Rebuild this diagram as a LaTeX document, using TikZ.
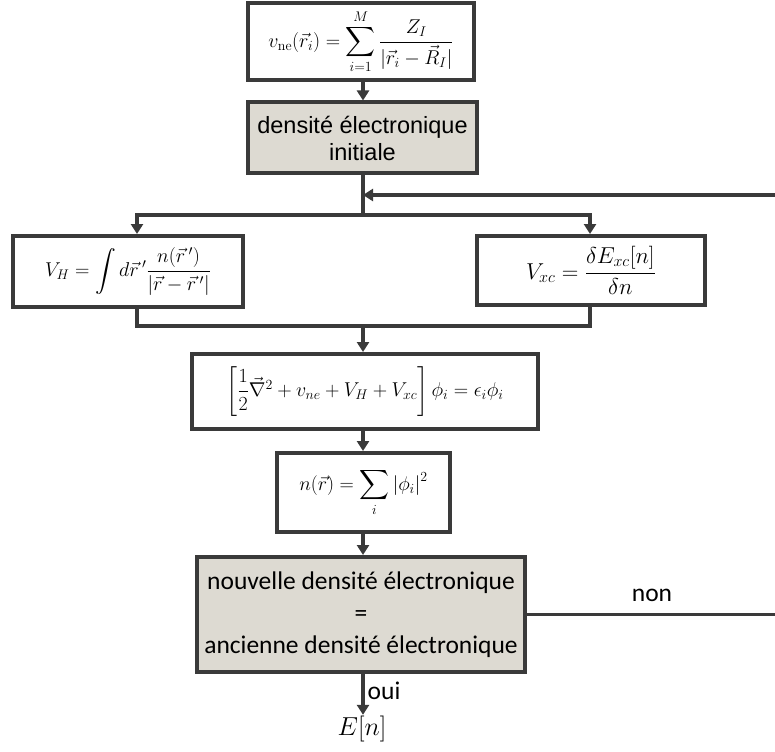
\RequirePackage{fix-cm}
\documentclass[tikz,border=0pt]{standalone}
\usepackage{amsmath}
\usepackage{fontspec}
\newfontfamily\arialf{Liberation Sans}
\newfontfamily\calibrif{Carlito}
\usetikzlibrary{arrows.meta}
\definecolor{ln}{RGB}{58,58,58}
\definecolor{gfill}{RGB}{221,218,210}
\tikzset{
  box/.style={draw=ln, line width=4pt, fill=white, inner sep=1pt, align=center},
  gbox/.style={box, fill=gfill},
  conn/.style={draw=ln, line width=3.4pt},
  arr/.style={conn, -{Triangle[length=10pt,width=12pt]}},
  mathf/.style={font=\fontsize{20}{24}\selectfont},
  calf/.style={font=\calibrif\fontsize{25.5}{30}\selectfont},
}
\begin{document}
\begin{tikzpicture}[x=1pt,y=-1pt]
\useasboundingbox (0,0) rectangle (775,751);
\node[box, minimum width=226pt, minimum height=77pt, font=\fontsize{20}{24}\selectfont] (b1) at (361,41.5)
  {$v_{\mathrm{ne}}(\vec r_i) = \displaystyle\sum_{i=1}^{M} \frac{Z_I}{|\vec r_i - \vec R_I|}$};
\node[gbox, minimum width=229pt, minimum height=71pt, font=\arialf\fontsize{23.5}{27}\selectfont] (b2) at (362.5,138)
  {densité électronique\\initiale};
\node[box, minimum width=230pt, minimum height=71pt, mathf] (vh) at (128,271.5)
  {$V_H = \displaystyle\int d\vec r\,' \frac{n(\vec r\,')}{|\vec r - \vec r\,'|}$};
\node[box, minimum width=228pt, minimum height=69pt, font=\fontsize{23}{27}\selectfont] (vxc) at (591,270.5)
  {$V_{xc} = \dfrac{\delta E_{xc}[n]}{\delta n}$};
\node[box, minimum width=346pt, minimum height=75pt, font=\fontsize{20}{24}\selectfont] (ks) at (365,391.5)
  {$\left[\dfrac{1}{2}\vec\nabla^2 + v_{ne} + V_H + V_{xc}\right]\phi_i = \epsilon_i\phi_i$};
\node[box, minimum width=173pt, minimum height=79pt, font=\fontsize{19.8}{24}\selectfont] (nr) at (363.5,492.5)
  {$n(\vec r) = \displaystyle\sum_i |\phi_i|^2$};
\node[gbox, minimum width=328pt, minimum height=115pt, font=\calibrif\fontsize{25.5}{32}\selectfont] (cv) at (361,614.5)
  {nouvelle densité électronique\\=\\ancienne densité électronique};
\node[font=\fontsize{26}{30}\selectfont, inner sep=1pt] (en) at (362,729) {$E[n]$};

\coordinate (split) at (363,215);
\coordinate (merge) at (363,326);
\coordinate (fb) at (363,195);
\coordinate (re1) at (781,614.5);
\coordinate (re2) at (781,195);
\coordinate (vhin) at (137,215);
\coordinate (vxcin) at (590,215);

\draw[arr] (b1.south -| split) -- (b2.north -| split);
\draw[conn] (b2.south -| split) -- (split);
\draw[arr] (split) -- (vhin) -- (vh.north -| vhin);
\draw[arr] (split) -- (vxcin) -- (vxc.north -| vxcin);
\draw[conn] (vh.south -| vhin) |- (merge);
\draw[conn] (vxc.south -| vxcin) |- (merge);
\draw[arr] (merge) -- (ks.north -| merge);
\draw[arr] (ks.south -| merge) -- (nr.north -| merge);
\draw[arr] (nr.south -| merge) -- (cv.north -| merge);
\draw[arr] (cv.south -| merge) -- (en.north -| merge)
  node[pos=0.42, right, calf, inner sep=3pt] (oui) {oui};
\draw[conn] (cv.east) -- (re1) -- (re2);
\draw[arr] (re2) -- (fb);
\node[calf] (non) at (652,595) {non};
\end{tikzpicture}
\end{document}
